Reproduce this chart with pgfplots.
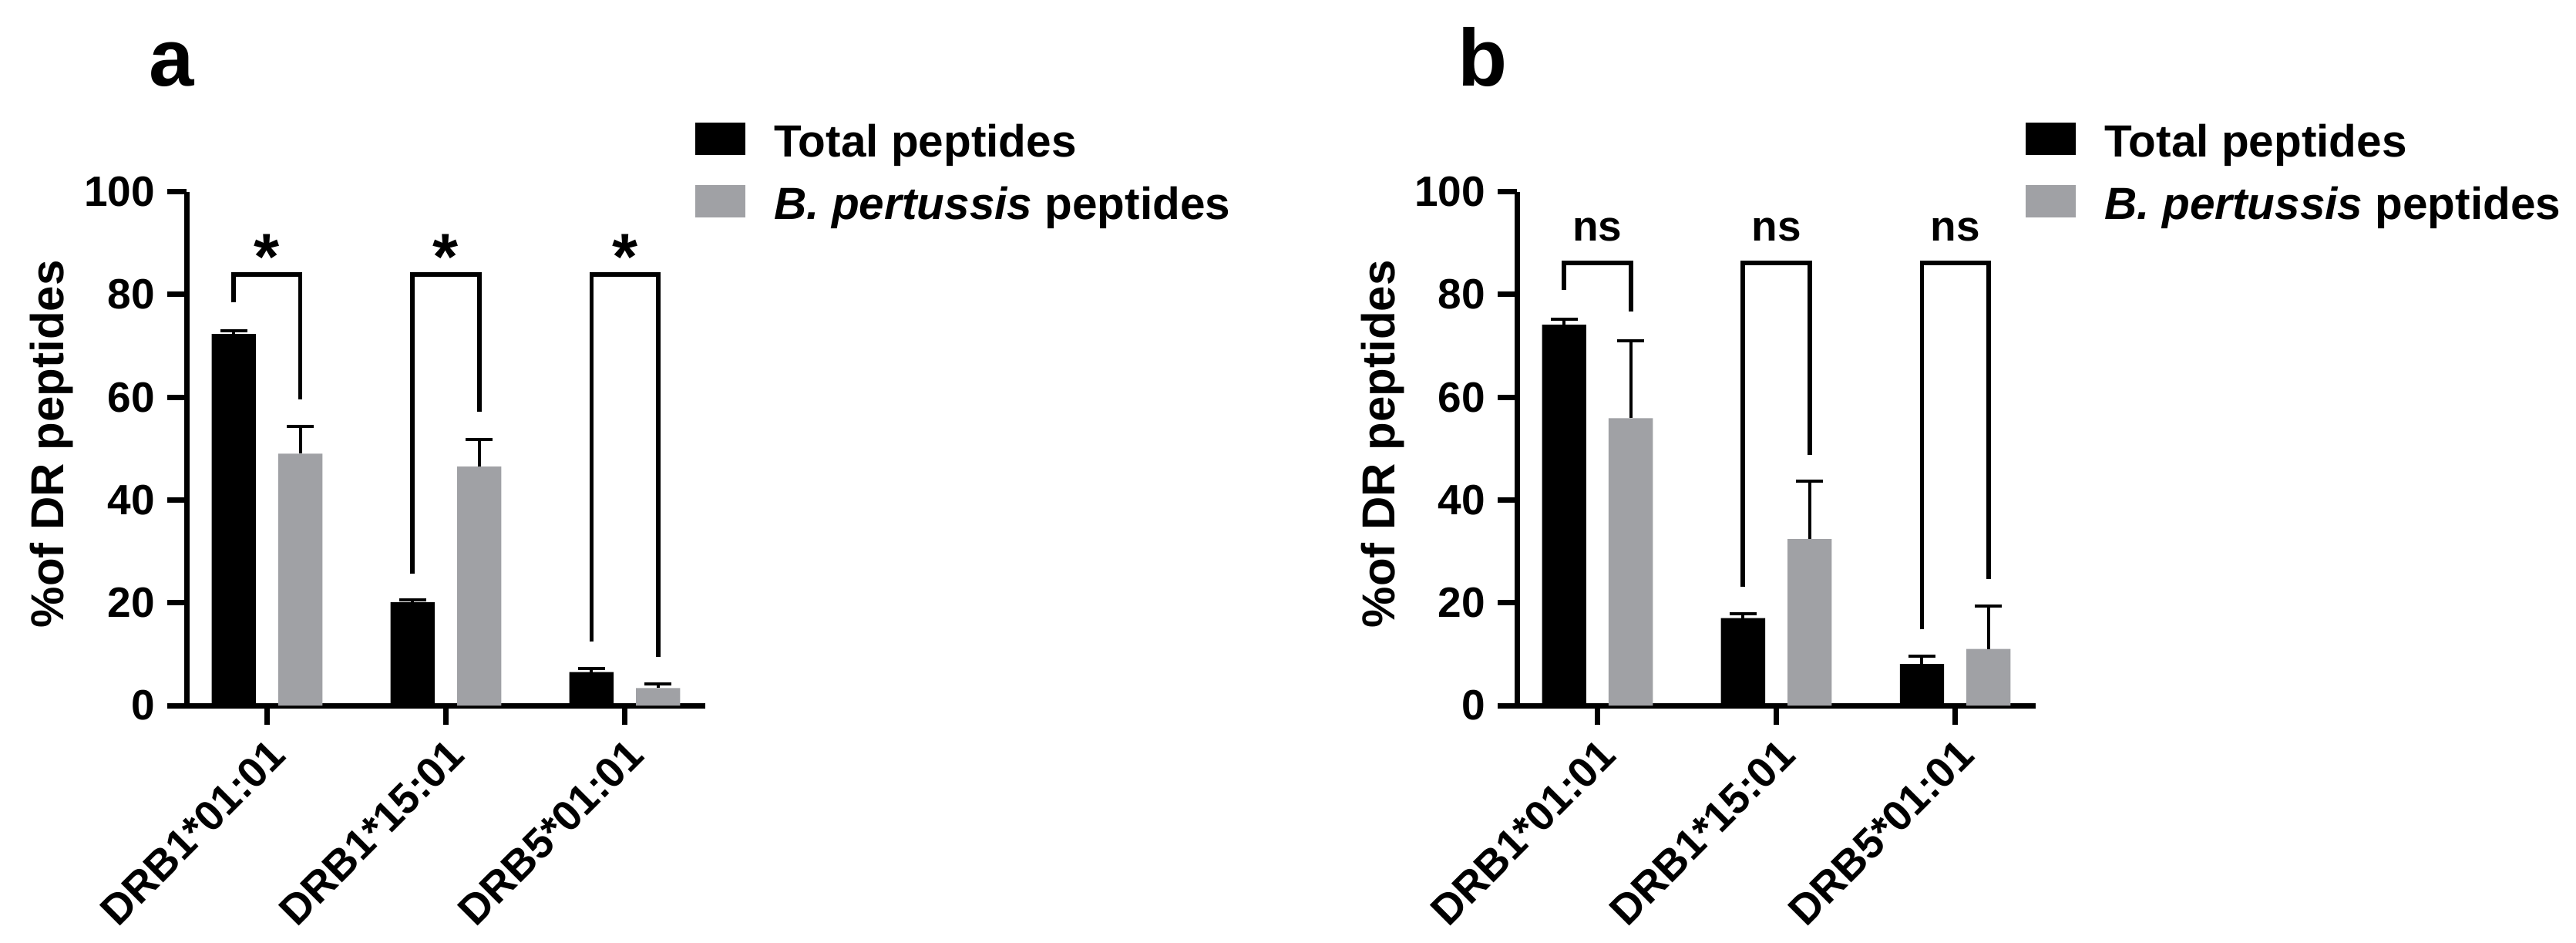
\documentclass[border=0pt]{standalone}
\usepackage{fontspec}
\setmainfont{Liberation Sans}
\usepackage{pgfplots}
\pgfplotsset{compat=1.18}
\definecolor{bargray}{RGB}{160,161,165}

\pgfplotsset{
  panel/.style={
    scale only axis, width=134.6pt, height=133.3pt,
    xmin=-0.45, xmax=2.45, ymin=0, ymax=100,
    axis x line=bottom, axis y line=left,
    axis line style={line width=1.4pt, -},
    tick align=outside, major tick length=5pt,
    every tick/.style={line width=1.4pt, black},
    xtick={0,1,2}, xticklabels={DRB1*01:01,DRB1*15:01,DRB5*01:01},
    ytick={0,20,40,60,80,100},
    /pgf/number format/assume math mode=true,
    ticklabel style={font=\bfseries\fontsize{11}{13}\selectfont},
    xticklabel style={rotate=45, anchor=north east, inner sep=2pt},
    yticklabel style={inner sep=3pt},
    ylabel={\%of DR peptides},
    ylabel style={font=\bfseries\fontsize{12}{14}\selectfont, at={(axis description cs:-0.2363,0.509)}, anchor=base},
    clip=false,
    legend style={draw=none, fill=none, inner sep=0pt, outer sep=0pt, at={(0.98,1.1347)}, anchor=north west, font=\bfseries\fontsize{11.7}{14}\selectfont, row sep=5.8pt, nodes={inner sep=0pt}, /tikz/every odd column/.append style={column sep=7.6pt}},
    legend cell align=left,
    legend image code/.code={\fill[##1] (0pt,-3pt) rectangle (13pt,5.4pt);},
  },
  err/.style={error bars/.cd, y dir=plus, y explicit, error bar style={line width=0.8pt, black}, error mark options={rotate=90, line width=0.8pt, black, mark size=3.5pt}},
}

\begin{document}
\begin{tikzpicture}
\useasboundingbox (0,0) rectangle (668.4pt,244.4pt);
\node[anchor=base west, font=\bfseries\fontsize{21}{24}\selectfont, inner sep=0pt] at (38.4pt,222.06pt) {a};
\node[anchor=base west, font=\bfseries\fontsize{21}{24}\selectfont, inner sep=0pt] at (378.0pt,222.06pt) {b};

\begin{axis}[panel, at={(48.4pt,61.4pt)}, anchor=south west]
\addplot[ybar, bar width=0.247, bar shift=0pt, fill=black, draw=none, err]
  coordinates {(-0.186,72.3) +- (0,0.6) (0.814,20.1) +- (0,0.4) (1.814,6.5) +- (0,0.7)};
\addlegendentry{Total peptides}
\addplot[ybar, bar width=0.247, bar shift=0pt, fill=bargray, draw=none, err]
  coordinates {(0.186,49.0) +- (0,5.3) (1.186,46.5) +- (0,5.3) (2.186,3.4) +- (0,0.8)};
\addlegendentry{\textit{B. pertussis} peptides}
\draw[line width=1.15pt] (axis cs:-0.186,78.4) -- (axis cs:-0.186,83.9) -- (axis cs:0.186,83.9) -- (axis cs:0.186,59.5);
\draw[line width=1.15pt] (axis cs:0.814,25.7) -- (axis cs:0.814,83.9) -- (axis cs:1.186,83.9) -- (axis cs:1.186,57.1);
\draw[line width=1.15pt] (axis cs:1.814,12.4) -- (axis cs:1.814,83.9) -- (axis cs:2.186,83.9) -- (axis cs:2.186,9.5);
\node[font=\bfseries\fontsize{17}{20}\selectfont, anchor=base, inner sep=0pt] at (axis cs:0,82.9) {*};
\node[font=\bfseries\fontsize{17}{20}\selectfont, anchor=base, inner sep=0pt] at (axis cs:1,82.9) {*};
\node[font=\bfseries\fontsize{17}{20}\selectfont, anchor=base, inner sep=0pt] at (axis cs:2,82.9) {*};
\end{axis}

\begin{axis}[panel, at={(393.6pt,61.4pt)}, anchor=south west]
\addplot[ybar, bar width=0.247, bar shift=0pt, fill=black, draw=none, err]
  coordinates {(-0.186,74.1) +- (0,1.1) (0.814,17.0) +- (0,0.9) (1.814,8.1) +- (0,1.5)};
\addlegendentry{Total peptides}
\addplot[ybar, bar width=0.247, bar shift=0pt, fill=bargray, draw=none, err]
  coordinates {(0.186,55.9) +- (0,15.1) (1.186,32.4) +- (0,11.2) (2.186,11.0) +- (0,8.4)};
\addlegendentry{\textit{B. pertussis} peptides}
\draw[line width=1.15pt] (axis cs:-0.186,80.8) -- (axis cs:-0.186,86.1) -- (axis cs:0.186,86.1) -- (axis cs:0.186,76.6);
\draw[line width=1.15pt] (axis cs:0.814,23.1) -- (axis cs:0.814,86.1) -- (axis cs:1.186,86.1) -- (axis cs:1.186,48.7);
\draw[line width=1.15pt] (axis cs:1.814,14.8) -- (axis cs:1.814,86.1) -- (axis cs:2.186,86.1) -- (axis cs:2.186,24.6);
\node[font=\bfseries\fontsize{11}{13}\selectfont, anchor=base, inner sep=0pt] at (axis cs:0,90.4) {ns};
\node[font=\bfseries\fontsize{11}{13}\selectfont, anchor=base, inner sep=0pt] at (axis cs:1,90.4) {ns};
\node[font=\bfseries\fontsize{11}{13}\selectfont, anchor=base, inner sep=0pt] at (axis cs:2,90.4) {ns};
\end{axis}
\end{tikzpicture}
\end{document}
